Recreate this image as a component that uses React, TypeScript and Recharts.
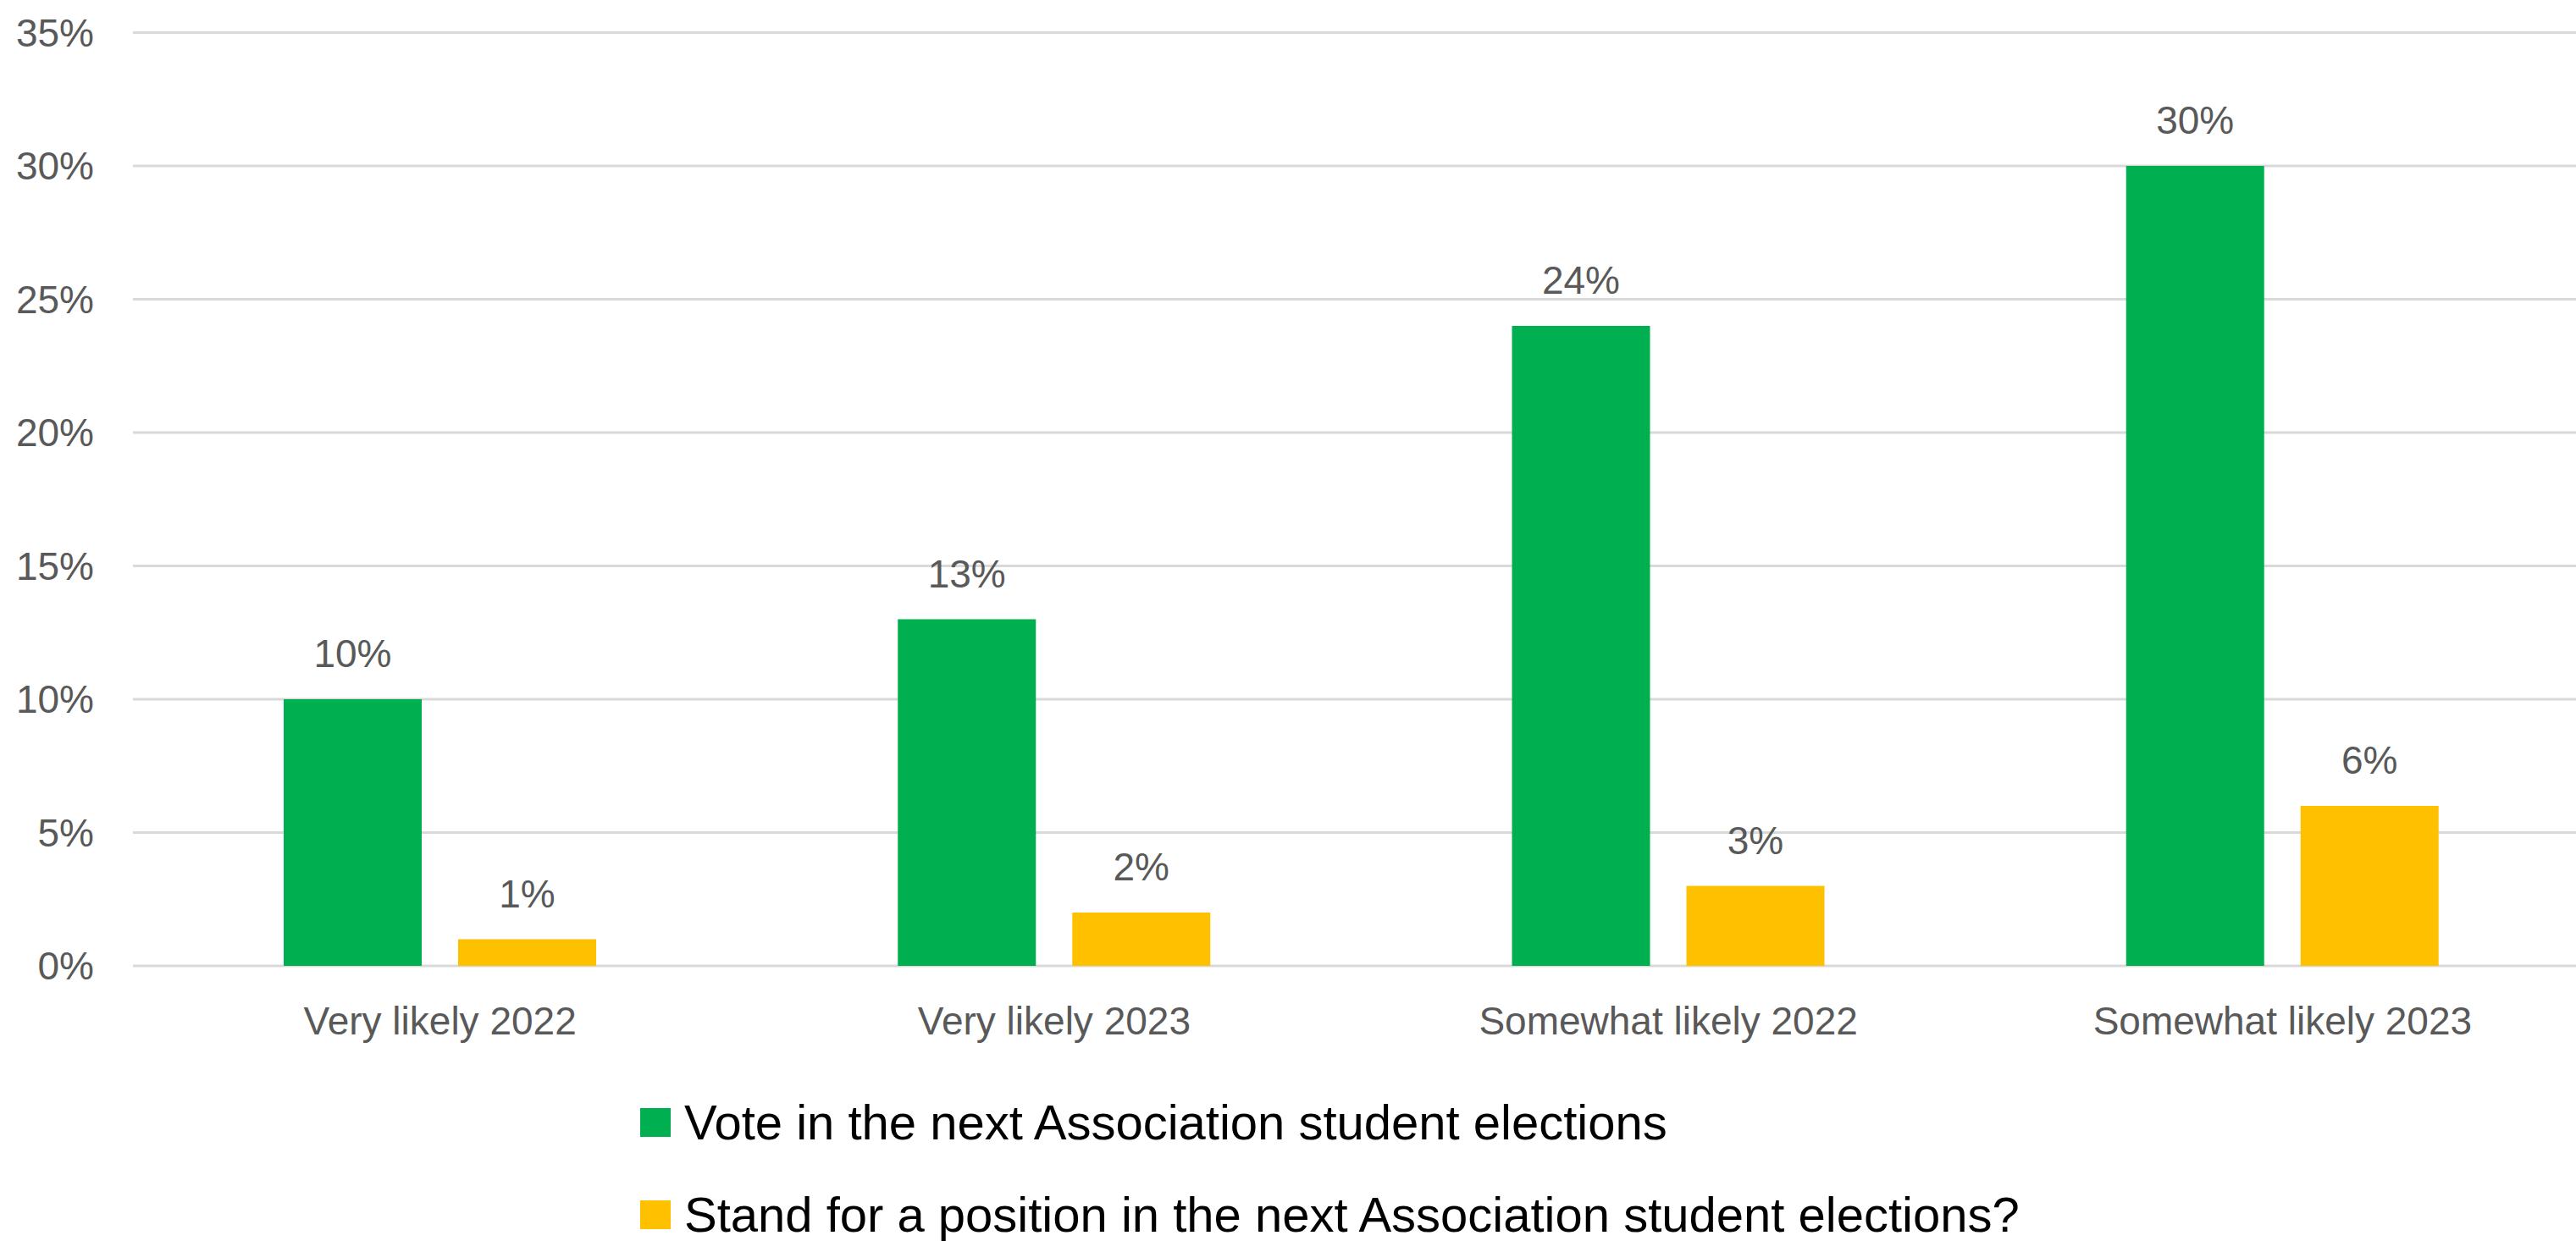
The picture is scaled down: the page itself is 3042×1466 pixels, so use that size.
import React from 'react';
import { BarChart, Bar, XAxis, YAxis, CartesianGrid, LabelList, Legend } from 'recharts';

const categories = ['Very likely 2022', 'Very likely 2023', 'Somewhat likely 2022', 'Somewhat likely 2023'];
const voteValues = [10, 13, 24, 30];
const standValues = [1, 2, 3, 6];
const yTicks = [0, 5, 10, 15, 20, 25, 30, 35];
const seriesNames = [
  'Vote in the next Association student elections',
  'Stand for a position in the next Association student elections?',
];
const seriesColors = ['#00B050', '#FFC000'];

const data = categories.map((c, i) => ({ name: c, vote: voteValues[i], stand: standValues[i] }));

const FONT = '"Liberation Sans", Arial, sans-serif';

const LegendContent = (props: any) => {
  const payload = [...(props.payload || [])].sort(
    (a: any, b: any) => seriesNames.indexOf(a.value) - seriesNames.indexOf(b.value)
  );
  return (
    <div style={{ fontFamily: FONT }}>
      {payload.map((p: any, i: number) => (
        <div
          key={i}
          style={{
            display: 'flex',
            alignItems: 'center',
            height: 60,
            marginBottom: i === 0 ? 49 : 0,
          }}
        >
          <div style={{ width: 36, height: 34, background: p.color, marginRight: 16 }} />
          <span style={{ fontSize: 58, lineHeight: '60px', color: '#000000', whiteSpace: 'nowrap' }}>{p.value}</span>
        </div>
      ))}
    </div>
  );
};

export default function App() {
  return (
    <div style={{ position: 'fixed', left: 0, top: 0, width: 3042, height: 1466, overflow: 'hidden', background: '#ffffff' }}>
      <BarChart
        width={3060}
        height={1466}
        data={data}
        margin={{ top: 38.5, right: 2, bottom: 0, left: 0 }}
        barSize={163}
        barGap={43}
      >
        <CartesianGrid horizontal={true} vertical={false} stroke="#D9D9D9" strokeWidth={3} />
        <XAxis
          dataKey="name"
          height={325}
          axisLine={false}
          tickLine={false}
          tickSize={0}
          tickMargin={48}
          interval={0}
          tick={{ fill: '#595959', fontSize: 46, fontFamily: FONT }}
        />
        <YAxis
          width={157}
          domain={[0, 35]}
          ticks={yTicks}
          axisLine={false}
          tickLine={false}
          tickSize={0}
          tickMargin={46}
          tickFormatter={(v: number) => `${v}%`}
          tick={{ fill: '#595959', fontSize: 46, fontFamily: FONT }}
        />
        <Legend
          layout="horizontal"
          verticalAlign="middle"
          align="center"
          content={<LegendContent />}
          wrapperStyle={{ left: 756, top: 1295.6, width: 2200, height: 'auto' }}
        />
        <Bar dataKey="vote" name={seriesNames[0]} fill={seriesColors[0]} isAnimationActive={false}>
          <LabelList
            dataKey="vote"
            position="top"
            offset={38}
            formatter={(v: any) => `${v}%`}
            style={{ fill: '#595959', fontSize: 46, fontFamily: FONT }}
          />
        </Bar>
        <Bar dataKey="stand" name={seriesNames[1]} fill={seriesColors[1]} isAnimationActive={false}>
          <LabelList
            dataKey="stand"
            position="top"
            offset={38}
            formatter={(v: any) => `${v}%`}
            style={{ fill: '#595959', fontSize: 46, fontFamily: FONT }}
          />
        </Bar>
      </BarChart>
    </div>
  );
}
